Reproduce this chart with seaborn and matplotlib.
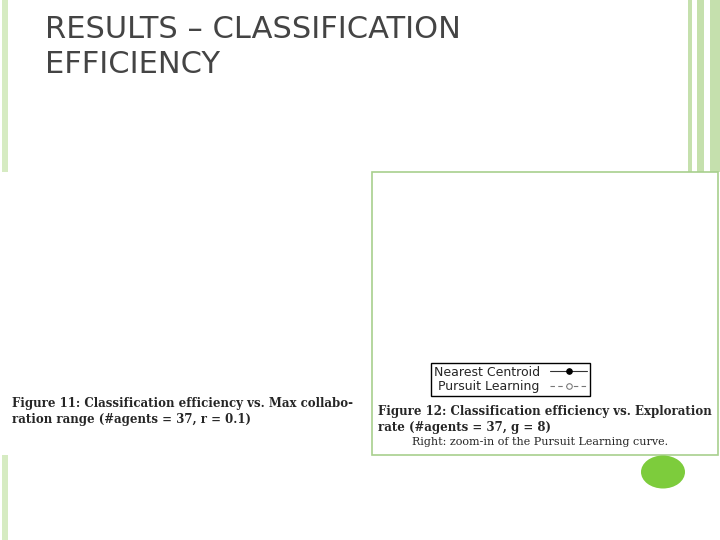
import matplotlib
matplotlib.use("Agg")
import matplotlib.pyplot as plt
import seaborn as sns
import pandas as pd
from matplotlib.patches import Rectangle, Ellipse, Circle

sns.set_style("ticks")
plt.rcParams['font.family'] = ['DejaVu Sans']

# Figure 11 data
range_x = [1, 2, 4, 8, 16, 32]
nc_range = [820, 1800, 2570, 3830, 5440, 7420]
pl_range = [830, 900, 950, 960, 1020, 1150]
# Figure 12 data
rate_x = [0, 0.01, 0.02, 0.05, 0.1, 0.2, 0.4, 0.6, 0.8, 1.0]
nc_rate = [4200, 3850, 4000, 3850, 3850, 3800, 3700, 3720, 3500, 1020]
pl_rate = [1020, 1020, 1020, 1020, 962, 962, 961, 991, 1020, 1020]

W, H = 720, 540
fig = plt.figure(figsize=(7.2, 5.4), dpi=100)

def ax_px(x0, y0, x1, y1):
    return fig.add_axes([x0 / W, 1 - y1 / H, (x1 - x0) / W, (y1 - y0) / H])

def bg(x0, y0, x1, y1, **kw):
    fig.patches.append(Rectangle((x0 / W, 1 - y1 / H), (x1 - x0) / W, (y1 - y0) / H,
                                 transform=fig.transFigure, figure=fig, **kw))

# slide decorations
bg(2, 0, 8, 175, color='#d6ebc2', lw=0)
bg(2, 445, 8, 540, color='#d6ebc2', lw=0)
bg(688, 0, 692, 175, color='#c5e0ad', lw=0)
bg(697, 0, 704, 175, color='#c5e0ad', lw=0)
bg(710, 0, 720, 175, color='#c5e0ad', lw=0)
bg(0, 172, 720, 455, color='white', lw=0)
bg(372, 172, 718, 455, fill=False, edgecolor='#a8d08d', lw=1.2)
fig.patches.append(Circle((663 / W, 1 - 472 / H), 22 / W, transform=fig.transFigure,
                          figure=fig, color='#7dcc3c', lw=0))
fig.text(45 / W, 1 - 47 / H, "RESULTS – CLASSIFICATION\nEFFICIENCY", fontsize=22,
         color='#444444', va='center', ha='left', linespacing=1.3)

def style(ax):
    ax.tick_params(direction='in', top=True, right=True, labelsize=9, length=3, pad=2)
    for s in ax.spines.values():
        s.set_linewidth(0.8)

nc_kw = dict(color='#333333', marker='o', markersize=4, linewidth=0.8,
             markerfacecolor='black', markeredgecolor='black')
pl_kw = dict(color='#777777', marker='o', markersize=4, linewidth=0.8, dashes=(4, 3),
             markerfacecolor='white', markeredgecolor='#777777')

# Figure 11
ax1 = ax_px(83, 185, 326, 344)
d1 = pd.DataFrame({'x': range_x, 'nc': nc_range, 'pl': pl_range})
sns.lineplot(data=d1, x='x', y='nc', ax=ax1, label='Nearest Centroid', **nc_kw)
sns.lineplot(data=d1, x='x', y='pl', ax=ax1, label='Pursuit Learning', **pl_kw)
ax1.set_xlim(0, 35); ax1.set_ylim(0, 10000)
ax1.set_xticks([0, 10, 20, 30]); ax1.set_yticks([0, 2000, 4000, 6000, 8000])
ax1.set_xlabel('Max collaboration range', fontsize=9, labelpad=2)
ax1.set_ylabel('Classification time (s)', fontsize=9, labelpad=2)
style(ax1)
ax1.legend(loc='upper left', fontsize=9, frameon=True, fancybox=False, edgecolor='black',
           markerfirst=False, borderpad=0.2, labelspacing=0.1, handlelength=3)
fig.text(12 / W, 1 - 412 / H, "Figure 11: Classification efficiency vs. Max collabo-\n"
         "ration range (#agents = 37, r = 0.1)", fontsize=8.5, family='DejaVu Serif',
         fontweight='bold', va='center', linespacing=1.3)

# Figure 12 main
ax2 = ax_px(451, 187, 570, 305)
d2 = pd.DataFrame({'x': rate_x, 'nc': nc_rate, 'pl': pl_rate})
sns.lineplot(data=d2, x='x', y='nc', ax=ax2, label='Nearest Centroid', **nc_kw)
sns.lineplot(data=d2, x='x', y='pl', ax=ax2, label='Pursuit Learning', **pl_kw)
ax2.set_xlim(-0.02, 1.0); ax2.set_ylim(0, 5000)
ax2.set_xticks([0, 0.5, 1]); ax2.set_xticklabels(['0', '0.5', '1'])
ax2.set_yticks(range(0, 5001, 1000))
ax2.set_xlabel('Exploration rate', fontsize=9, labelpad=2)
ax2.set_ylabel('Classification time (s)', fontsize=9, labelpad=2)
style(ax2)
h, l = ax2.get_legend_handles_labels()
ax2.legend_.remove()
fig.legend(h, l, loc='upper left', bbox_to_anchor=(425 / W, 1 - 357 / H), fontsize=9,
           frameon=True, fancybox=False, edgecolor='black', markerfirst=False,
           borderpad=0.2, labelspacing=0.1, handlelength=3, framealpha=1)

# Figure 12 zoom-in
ax3 = ax_px(610, 187, 699, 336)
sns.lineplot(data=d2, x='x', y='pl', ax=ax3, legend=False, **pl_kw)
ax3.set_xlim(-0.02, 1.0); ax3.set_ylim(900, 1100)
ax3.set_xticks([0, 0.5, 1]); ax3.set_xticklabels(['0', '0.5', '1'])
ax3.set_yticks([900, 1000, 1100])
ax3.set_xlabel('(zoom-in)', fontsize=9, labelpad=2); ax3.set_ylabel('')
style(ax3)
ax3.add_patch(Ellipse((0.25, 962), 0.7, 28, fill=False, edgecolor='#1fa3c9', lw=2.5,
                      clip_on=False))

fig.text(378 / W, 1 - 420 / H, "Figure 12: Classification efficiency vs. Exploration\n"
         "rate (#agents = 37, g = 8)", fontsize=8.5, family='DejaVu Serif',
         fontweight='bold', va='center', linespacing=1.3)
fig.text(540 / W, 1 - 442 / H, "Right: zoom-in of the Pursuit Learning curve.",
         fontsize=8, family='DejaVu Serif', ha='center', va='center')

fig.savefig('out.png', dpi=100)
